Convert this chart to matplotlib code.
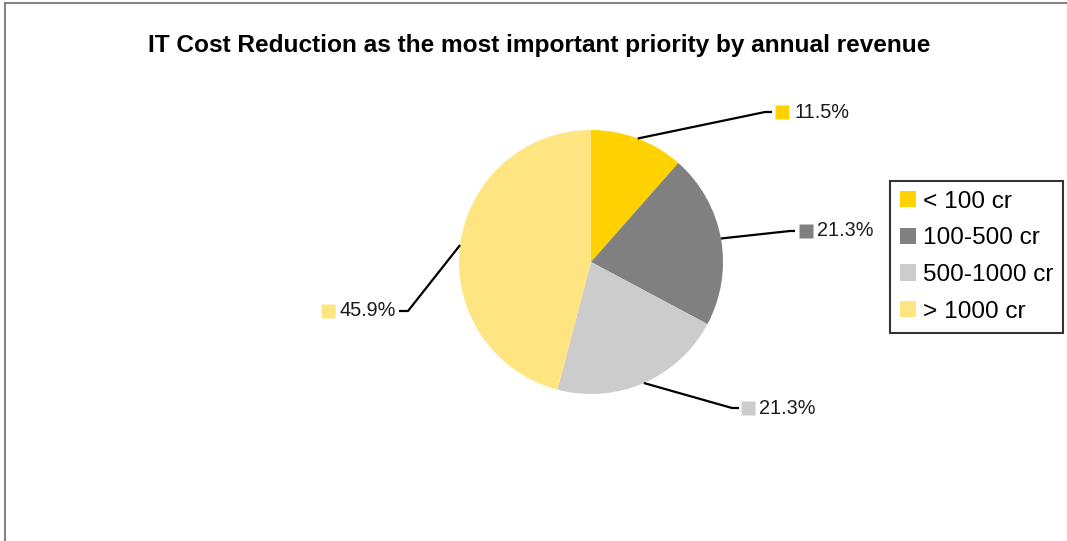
import numpy as np
import matplotlib
matplotlib.use("Agg")
import matplotlib.pyplot as plt
from matplotlib.lines import Line2D

plt.rcParams['font.family'] = ['Liberation Sans', 'DejaVu Sans']

W, H = 1067, 541

categories = ['< 100 cr', '100-500 cr', '500-1000 cr', '> 1000 cr']
shares = [11.5, 21.3, 21.3, 45.9]
colors = ['#FFD200', '#808080', '#CCCCCC', '#FFE581']

# where each callout ends (pixels): elbow point, end of leader, marker centre, text start
callouts = [
    ((765, 112), (772, 112), (782, 112), 795),
    ((790, 231), (795, 231), (806, 231), 817),
    ((732, 408), (739, 408), (748, 408), 759),
    ((408, 311), (399, 311), (328, 311), 340),
]

cx, cy, r = 591, 262, 132

fig = plt.figure(figsize=(W / 100, H / 100), dpi=100)
ax = fig.add_axes([(cx - r) / W, (H - cy - r) / H, 2 * r / W, 2 * r / H])

wedges, _ = ax.pie(shares, colors=colors, startangle=90, counterclock=False,
                   radius=1, wedgeprops=dict(linewidth=0))
ax.set_xlim(-1, 1)
ax.set_ylim(-1, 1)
ax.axis('off')


def to_data(px, py):
    return (px - cx) / r, (cy - py) / r


for w, v, col, (elbow, end, mk, tx) in zip(wedges, shares, colors, callouts):
    mid = np.deg2rad((w.theta1 + w.theta2) / 2)
    x0, y0 = np.cos(mid), np.sin(mid)
    ex, ey = to_data(*elbow)
    nx, ny = to_data(*end)
    ax.plot([x0, ex, nx], [y0, ey, ny], color='black', lw=1.6, clip_on=False,
            solid_capstyle='butt')
    mx, my = to_data(*mk)
    ax.plot([mx], [my], marker='s', ms=9.4, color=col, mec='none', clip_on=False)
    tx_d, _ = to_data(tx, 0)
    ax.text(tx_d, my, f"{v:.1f}%", fontsize=14.3, ha='left', va='center',
            color='#1a1a1a', clip_on=False)

fig.text(539 / W, 1 - 52 / H,
         'IT Cost Reduction as the most important priority by annual revenue',
         ha='center', va='baseline', fontsize=17.6, fontweight='bold')

leg = fig.legend(wedges, categories, loc='upper left',
                 bbox_to_anchor=(890 / W, 1 - 181 / H), fontsize=17.6,
                 frameon=True, fancybox=False, handlelength=0.65,
                 handleheight=0.65, handletextpad=0.3, labelspacing=0.6,
                 borderpad=0.4, borderaxespad=0)
leg.get_frame().set_edgecolor('black')
leg.get_frame().set_linewidth(1.5)

# outer chart border (top and left edges visible)
fig.add_artist(Line2D([4.5 / W, 1.0], [1 - 2.5 / H, 1 - 2.5 / H],
                      color='#858585', lw=1.5))
fig.add_artist(Line2D([4.5 / W, 4.5 / W], [0, 1 - 2.5 / H],
                      color='#858585', lw=1.5))

fig.savefig('out.png', dpi=100)
